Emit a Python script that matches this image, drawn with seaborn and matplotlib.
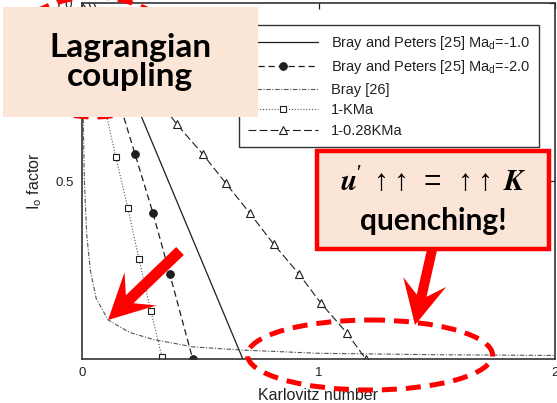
import numpy as np
import pandas as pd
import matplotlib
matplotlib.use("Agg")
import matplotlib.pyplot as plt
import seaborn as sns
from matplotlib.patches import Rectangle, Ellipse, Polygon

# ---------------- data ----------------
ka_bp1 = [0.05, 0.68]
io_bp1 = [1.0, 0.0]

ka_bp2 = [0.03, 0.224, 0.30, 0.371, 0.468]
io_bp2 = [1.0, 0.576, 0.41, 0.239, 0.0]

ka_bray = [0.0, 0.005, 0.01, 0.02, 0.035, 0.06, 0.11, 0.2, 0.3, 0.47, 0.68, 1.0, 1.5, 2.0]
io_bray = [1.0, 0.68, 0.5, 0.35, 0.25, 0.17, 0.11, 0.075, 0.055, 0.034, 0.025, 0.016, 0.012, 0.01]

ka_kma = [0.0, 0.048, 0.095, 0.143, 0.194, 0.241, 0.291, 0.338]
io_kma = [1.0, 0.86, 0.71, 0.567, 0.424, 0.281, 0.135, 0.006]

ka_028 = [0.0, 0.1, 0.2, 0.3, 0.40, 0.51, 0.608, 0.709, 0.81, 0.916, 1.01, 1.12, 1.2]
io_028 = [1.0, 0.92, 0.83, 0.75, 0.66, 0.576, 0.494, 0.41, 0.323, 0.24, 0.157, 0.073, 0.0]

series_labels = [
    "Bray and Peters [25] Ma$_d$=-1.0",
    "Bray and Peters [25] Ma$_d$=-2.0",
    "Bray [26]",
    "1-KMa",
    "1-0.28KMa",
]
x_ticks = [0, 1, 2]
x_ticklabels = ["0", "1", "2"]
y_ticks = [0.5, 1.0]
y_ticklabels = ["0.5", "1.0"]

# ---------------- figure ----------------
sns.set_theme(style="white")
plt.rcParams["font.family"] = ["Liberation Sans", "DejaVu Sans"]
plt.rcParams["mathtext.default"] = "regular"

W, H = 557, 403
fig = plt.figure(figsize=(W / 100, H / 100), dpi=100)
fig.patch.set_facecolor("white")
ax = fig.add_axes([82 / W, 44 / H, 473 / W, 356 / H])
ax.set_facecolor("white")

dark = "#1e1e1e"
grey = "#555555"

sns.lineplot(x=ka_bp1, y=io_bp1, ax=ax, color=dark, lw=0.9, linestyle="-", sort=False)
sns.lineplot(x=ka_bp2, y=io_bp2, ax=ax, color=dark, lw=0.9, linestyle=(0, (5, 3)),
             marker="o", markersize=5.5, markerfacecolor=dark, markeredgecolor=dark,
             markevery=[1, 2, 3, 4], sort=False)
sns.lineplot(x=ka_bray, y=io_bray, ax=ax, color=grey, lw=0.8, linestyle=(0, (4, 1.5, 1, 1.5)),
             sort=False)
sns.lineplot(x=ka_kma, y=io_kma, ax=ax, color=grey, lw=0.8, linestyle=(0, (1, 1.6)),
             marker="s", markersize=5, markerfacecolor="white", markeredgecolor=dark,
             markeredgewidth=0.8, markevery=list(range(1, len(ka_kma))), sort=False)
sns.lineplot(x=ka_028, y=io_028, ax=ax, color=dark, lw=0.8, linestyle=(0, (7, 3)),
             marker="^", markersize=5.5, markerfacecolor="white", markeredgecolor=dark,
             markeredgewidth=0.8, markevery=list(range(1, len(ka_028))), sort=False)

ax.set_xlim(0, 2)
ax.set_ylim(0, 1)
ax.set_xticks(x_ticks)
ax.set_xticklabels(x_ticklabels)
ax.set_yticks(y_ticks)
ax.set_yticklabels(y_ticklabels)
ax.tick_params(direction="in", top=True, right=True, length=4, width=0.9,
               labelsize=9.5, colors="#222222", pad=6)
for sp in ax.spines.values():
    sp.set_visible(True)
    sp.set_color("#333333")
    sp.set_linewidth(1.2)
ax.set_xlabel("Karlovitz number", fontsize=11.5, color="#222222", labelpad=6)
ax.set_ylabel("I$_o$ factor", fontsize=11.5, color="#222222", labelpad=8)

handles = ax.lines[:5]
leg = ax.legend(handles, series_labels, loc="upper right",
                bbox_to_anchor=(539 / W, 1 - 25 / H), bbox_transform=fig.transFigure,
                frameon=True, fancybox=False, framealpha=1, edgecolor="#333333",
                fontsize=10.5, handlelength=4.8, handletextpad=0.9,
                labelspacing=0.45, borderpad=0.6, borderaxespad=0)
leg.get_frame().set_linewidth(1.0)
for t in leg.get_texts():
    t.set_color("#222222")

# ---------------- overlay annotations (pixel coordinates) ----------------
ov = fig.add_axes([0, 0, 1, 1], zorder=10)
ov.set_xlim(0, W)
ov.set_ylim(H, 0)
ov.axis("off")
ov.patch.set_alpha(0)

red = "#ff0000"
peach = "#fbe5d6"


def stealth_arrow(tail, tip, w=10, L=45, Hw=45, neck=30):
    t = np.array(tail, float)
    p = np.array(tip, float)
    u = (p - t) / np.linalg.norm(p - t)
    v = np.array([-u[1], u[0]])
    n = p - neck * u
    b = p - L * u
    pts = [t + w / 2 * v, n + w / 2 * v, b + Hw / 2 * v, p,
           b - Hw / 2 * v, n - w / 2 * v, t - w / 2 * v]
    return Polygon(pts, closed=True, facecolor=red, edgecolor="none")


# dashed ellipses
ov.add_patch(Ellipse((94, 57), 176, 120, fill=False, edgecolor=red, lw=3.6,
                     linestyle=(0, (3, 1.8))))
ov.add_patch(Ellipse((370, 355), 245, 70, fill=False, edgecolor=red, lw=3.6,
                     linestyle=(0, (3, 1.8))))

# "Lagrangian coupling" box
ov.add_patch(Rectangle((3, 7), 255, 110, facecolor=peach, edgecolor="none"))
ov.text(130, 62, "Lagrangian\ncoupling", ha="center", va="center", fontsize=24,
        fontweight="bold", family=["Lato", "DejaVu Sans"], linespacing=1.02, color="black")
ov.add_patch(stealth_arrow((180, 251), (108, 320), w=11, L=45, Hw=46, neck=30))

# "quenching" box
ov.add_patch(Rectangle((317, 151), 232, 98, facecolor=peach, edgecolor=red, lw=3.2))
ov.text(433, 182, r"$\mathbfit{u}'\ \uparrow\!\uparrow\ =\ \uparrow\!\uparrow\ \mathbfit{K}$",
        ha="center", va="center", fontsize=21.5, math_fontfamily="stix", color="black")
ov.text(433, 221, "quenching!", ha="center", va="center", fontsize=21.5,
        fontweight="bold", family=["Lato", "DejaVu Sans"], color="black")
ov.add_patch(stealth_arrow((432, 250), (415, 325), w=10, L=44, Hw=44, neck=30))

fig.savefig("out.png", dpi=100, facecolor="white")
